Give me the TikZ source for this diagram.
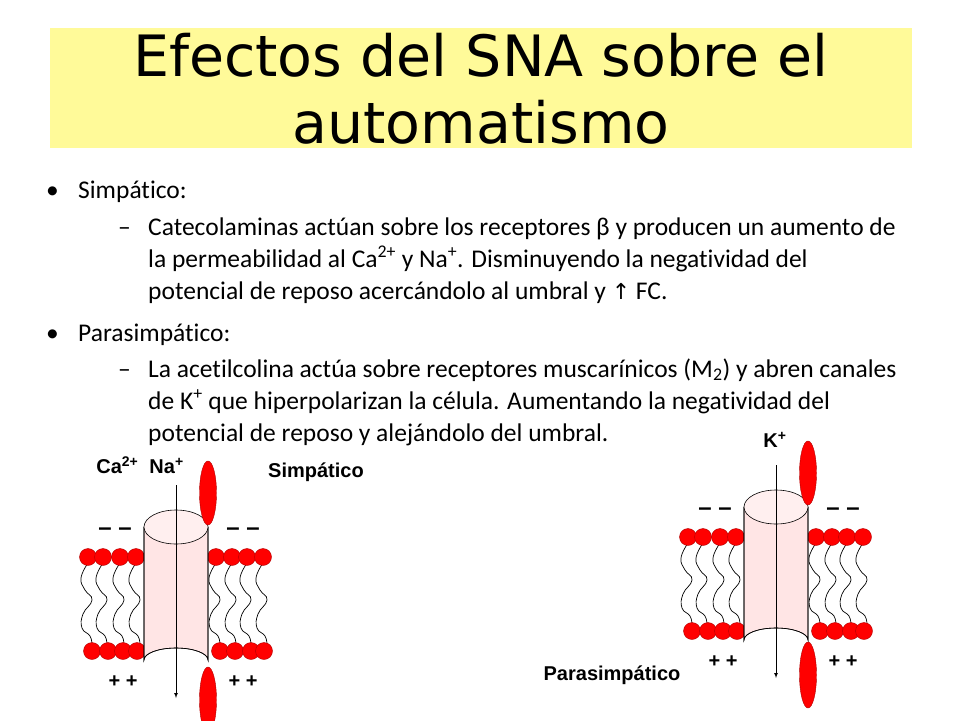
\documentclass[tikz,border=0pt]{standalone}
\usepackage{fontspec}
\setmainfont{Carlito}[Ligatures={NoCommon}]
\newfontfamily\titlefont{DejaVu Sans}
\newfontfamily\arialb{Liberation Sans}
\newfontfamily\dejavu{DejaVu Sans}
\begin{document}
\begin{tikzpicture}[x=1pt,y=-1pt,
  body/.style={anchor=base west,inner sep=0pt,font=\fontsize{25.5}{30}\selectfont},
  lbl/.style={inner sep=0pt,font=\arialb\bfseries\fontsize{20}{24}\selectfont},
  head/.style={fill=red,draw=red!70!black,line width=0.4pt},
  tail/.style={line width=0.7pt},
  chan/.style={draw=black,line width=0.6pt,fill=pink!40},
  gate/.style={fill=red,draw=red!70!black}]
\useasboundingbox (0,0) rectangle (960,720);
\fill[white] (0,0) rectangle (960,720);
\fill[yellow!40] (50,28) rectangle (912,148);
\node[inner sep=0pt,font=\titlefont\fontsize{57}{64}\selectfont] (t1) at (481,55) {Efectos del SNA sobre el};
\node[inner sep=0pt,font=\titlefont\fontsize{57}{64}\selectfont] (t2) at (481,122) {automatismo};
% body
\node[body] (b1) at (46,198) {•};
\node[body] (l1) at (78,198) {Simpático:};
\node[body] (d1) at (118,235) {–};
\node[body] (l2) at (148,235) {Catecolaminas actúan sobre los receptores β y producen un aumento de};
\node[body] (l3) at (148,267) {la permeabilidad al Ca\textsuperscript{2+} y Na\textsuperscript{+}. Disminuyendo la negatividad del};
\node[body] (l4) at (148,299) {potencial de reposo acercándolo al umbral y {\dejavu\fontsize{22}{25}\selectfont ↑} FC.};
\node[body] (b2) at (46,341) {•};
\node[body] (l5) at (78,341) {Parasimpático:};
\node[body] (d2) at (118,377) {–};
\node[body] (l6) at (148,377) {La acetilcolina actúa sobre receptores muscarínicos (M\textsubscript{2}) y abren canales};
\node[body] (l7) at (148,409) {de K\textsuperscript{+} que hiperpolarizan la célula. Aumentando la negatividad del};
\node[body] (l8) at (148,441) {potencial de reposo y alejándolo del umbral.};
% labels
\node[lbl] (ca) at (140,465) {Ca\textsuperscript{2+}\ \ Na\textsuperscript{+}};
\node[lbl] (sim) at (316,472) {Simpático};
\node[lbl] (kp) at (775,440) {K\textsuperscript{+}};
\node[lbl] (par) at (612,675) {Parasimpático};
\foreach \dx/\dy/\bot in {0/0/700,600/-20/695}{
\begin{scope}[shift={(\dx,\dy)}]
  \foreach \x in {88,103,120,136,216,232,247,263}{
    \draw[tail] plot[smooth,tension=0.8] coordinates {(\x,563) (\x-7,578) (\x-3,590) (\x+4,600) (\x-5,614) (\x-6,628) (\x+2,636) (\x+4,645)};
  }
  \foreach \x in {88,103,120,136,216,232,247,263}{\fill[head] (\x,557) circle (8.5);}
  \foreach \x in {92,108,123,137,220,235,251,264}{\fill[head] (\x,651) circle (8.5);}
  \fill[chan] (144,527) -- (144,660) arc[start angle=180,end angle=360,x radius=32,y radius=12] -- (208,527) -- cycle;
  \draw[line width=0.6pt] (144,527) -- (144,660) arc[start angle=180,end angle=360,x radius=32,y radius=12] -- (208,527);
  \filldraw[chan,fill=pink!25] (176,527) ellipse[x radius=32,y radius=17];
  \coordinate (at) at (176,485);
  \coordinate (ab) at (176,698);
  \draw[-latex,line width=0.7pt] (at) -- (ab);
  \fill[gate] (208,493) ellipse[x radius=8.5,y radius=32];
  \fill[gate] (208,\bot) ellipse[x radius=8.5,y radius=33];
  \node[lbl,font=\arialb\bfseries\fontsize{24}{24}\selectfont] (m1) at (115,532) {– –};
  \node[lbl,font=\arialb\bfseries\fontsize{24}{24}\selectfont] (m2) at (243,532) {– –};
  \node[lbl] (p1) at (123,682) {+ +};
  \node[lbl] (p2) at (243,682) {+ +};
\end{scope}}
\end{tikzpicture}
\end{document}
